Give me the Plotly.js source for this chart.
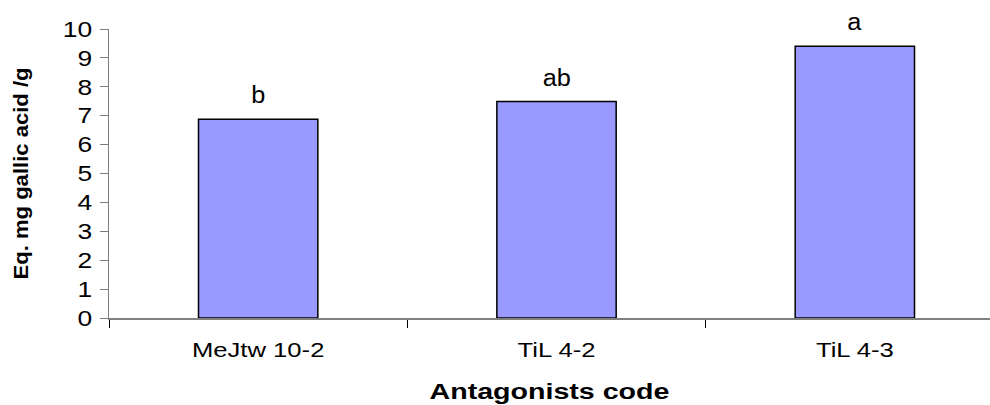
<!DOCTYPE html>
<html>
<head>
<meta charset="utf-8">
<script src="https://cdn.plot.ly/plotly-3.0.1.min.js"></script>
<style>
  html, body { margin: 0; padding: 0; background: #ffffff; }
  #chart { width: 990px; height: 405px; }
</style>
</head>
<body>
<div id="chart"></div>
<script>
// ---- data ----
var categories = ["MeJtw 10-2", "TiL 4-2", "TiL 4-3"];
var values = [6.88, 7.49, 9.40];
var letters = ["b", "ab", "a"];
var yTickValues = [0, 1, 2, 3, 4, 5, 6, 7, 8, 9, 10];

var FONT = "Liberation Sans, Arial, sans-serif";

var trace = {
  type: "bar",
  x: categories,
  y: values,
  width: 0.4,
  marker: { color: "#9999FF", line: { color: "#000000", width: 1.5 } },
  hoverinfo: "none"
};

var annotations = categories.map(function (c, i) {
  return {
    x: c, y: values[i], xref: "x", yref: "y",
    text: letters[i], showarrow: false,
    yanchor: "bottom", yshift: 9,
    font: { family: FONT, size: 23, color: "#000000" }
  };
});

var layout = {
  width: 990, height: 405,
  margin: { l: 109, r: 0, t: 29, b: 87 },
  paper_bgcolor: "#ffffff", plot_bgcolor: "#ffffff",
  showlegend: false,
  font: { family: FONT, color: "#000000" },
  xaxis: {
    type: "category",
    range: [-0.5, 2.453],
    showline: true, linecolor: "#808080", linewidth: 1.5,
    ticks: "outside", tickson: "boundaries", ticklen: 8, tickcolor: "#000000", tickwidth: 1,
    ticklabelstandoff: 12,
    showgrid: false, zeroline: false,
    tickfont: { family: FONT, size: 21, color: "#000000" },
    title: { text: "Antagonists code", font: { family: FONT, size: 22, color: "#000000", weight: "bold" }, standoff: 24 }
  },
  yaxis: {
    range: [0, 10],
    tickvals: yTickValues,
    showline: true, linecolor: "#808080", linewidth: 1.5,
    ticks: "outside", ticklen: 8, tickcolor: "#808080", tickwidth: 1,
    ticklabelstandoff: 3,
    showgrid: false, zeroline: false,
    tickfont: { family: FONT, size: 22, color: "#000000" },
    title: { text: "Eq. mg gallic acid /g", font: { family: FONT, size: 21, color: "#000000", weight: "bold" }, standoff: 33 }
  },
  annotations: annotations,
  bargap: 0.6
};

function stretch(selector, factor) {
  document.querySelectorAll(selector).forEach(function (el) {
    var w = el.getComputedTextLength();
    if (w > 0) {
      el.setAttribute("textLength", (w * factor).toFixed(2));
      el.setAttribute("lengthAdjust", "spacingAndGlyphs");
    }
  });
}

Plotly.newPlot("chart", [trace], layout, { displayModeBar: false, staticPlot: true }).then(function () {
  stretch(".xtick text", 1.22);
  stretch(".ytick text", 1.2);
  stretch(".g-xtitle text", 1.3);
  stretch(".g-ytitle text", 1.05);
  stretch(".annotation-text", 1.1);
});
</script>
</body>
</html>
